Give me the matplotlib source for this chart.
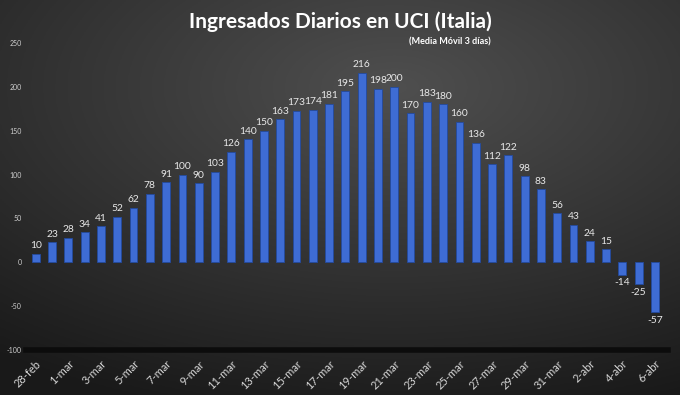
import numpy as np
import matplotlib
matplotlib.use("Agg")
import matplotlib.pyplot as plt

dates = ["28-feb", "29-feb"] + [f"{d}-mar" for d in range(1, 32)] + [f"{d}-abr" for d in range(1, 7)]
values = [10, 23, 28, 34, 41, 52, 62, 78, 91, 100, 90, 103, 126, 140, 150, 163, 173, 174,
          181, 195, 216, 198, 200, 170, 183, 180, 160, 136, 112, 122, 98, 83, 56, 43, 24, 15,
          -14, -25, -57]
yticks = [-100, -50, 0, 50, 100, 150, 200, 250]
title = "Ingresados Diarios en UCI (Italia)"
subtitle = "(Media Móvil 3 días)"

plt.rcParams['font.family'] = ['Lato', 'DejaVu Sans']

W, H = 680, 395
fig = plt.figure(figsize=(W / 100, H / 100), dpi=100)

# background gradient
bg = fig.add_axes([0, 0, 1, 1])
yy, xx = np.mgrid[0:1:200j, 0:1:340j]
d = np.sqrt(((xx - 0.58) / 1.0) ** 2 + ((yy - 0.22) / 0.9) ** 2)
v = 0.31 - 0.22 * d
v = np.clip(v, 0.10, 0.32)
img = np.dstack([v, v, v])
bg.imshow(img, extent=[0, 1, 0, 1], origin='upper', aspect='auto')
bg.set_axis_off()

ax = fig.add_axes([26 / W, 1 - 350 / H, (668 - 26) / W, (350 - 43) / H])
ax.set_facecolor('none')
x = np.arange(len(values))
ax.bar(x, values, width=0.48, color='#3e6cd4', edgecolor='#234a9e', linewidth=0.6, zorder=3)

for xi, v_ in zip(x, values):
    if v_ >= 0:
        ax.text(xi, v_ + 4, str(v_), ha='center', va='bottom', color='#e8e8e8', fontsize=7.4)
    else:
        ax.text(xi, v_ - 4, str(v_), ha='center', va='top', color='#e8e8e8', fontsize=7.4)

ax.set_xlim(-0.6, 38.8)
ax.set_ylim(-100, 250)
ax.set_yticks(yticks)
ax.set_yticklabels([str(t) for t in yticks], fontsize=5, color='#cfcfcf')
ax.set_xticks(x[::2])
ax.set_xticklabels(dates[::2], rotation=45, ha='right', rotation_mode='anchor',
                   fontsize=8, color='#d6d6d6')
ax.tick_params(axis='both', length=0)
ax.tick_params(axis='y', pad=3)
ax.tick_params(axis='x', pad=6)
for s in ax.spines.values():
    s.set_visible(False)
ax.axhline(-100, color='#0c0c0c', linewidth=4, zorder=2, clip_on=False)

fig.text(0.5, 0.945, title, ha='center', va='center', color='white', fontsize=15, fontweight='bold')
fig.text(0.662, 0.893, subtitle, ha='center', va='center', color='white', fontsize=6.5, fontweight='bold')

fig.savefig("out.png", dpi=100)
